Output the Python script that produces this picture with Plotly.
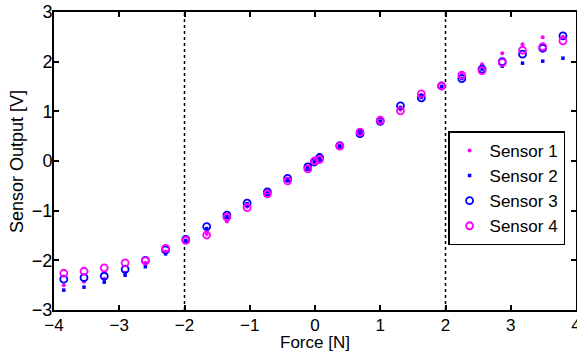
import plotly.graph_objects as go

force = [-3.85, -3.54, -3.23, -2.91, -2.60, -2.29, -1.98, -1.66, -1.35, -1.04, -0.73, -0.42, -0.11,
         -0.01, 0.07, 0.38, 0.69, 1.00, 1.31, 1.63, 1.94, 2.25, 2.56, 2.87, 3.18, 3.49, 3.80]

sensor1 = [-2.50, -2.43, -2.37, -2.25, -2.05, -1.82, -1.62, -1.47, -1.22, -0.92, -0.64, -0.38, -0.14,
           -0.01, 0.04, 0.30, 0.58, 0.81, 1.03, 1.33, 1.50, 1.75, 1.95, 2.17, 2.35, 2.49, 2.50]
sensor2 = [-2.60, -2.54, -2.44, -2.30, -2.13, -1.87, -1.60, -1.36, -1.12, -0.86, -0.61, -0.37, -0.12,
           -0.02, 0.06, 0.30, 0.55, 0.79, 1.08, 1.28, 1.50, 1.66, 1.85, 1.91, 1.97, 2.01, 2.07]
sensor3 = [-2.38, -2.35, -2.32, -2.18, -2.00, -1.79, -1.58, -1.32, -1.09, -0.85, -0.62, -0.35, -0.12,
           -0.02, 0.07, 0.31, 0.55, 0.80, 1.11, 1.27, 1.51, 1.66, 1.85, 2.00, 2.15, 2.27, 2.52]
sensor4 = [-2.26, -2.22, -2.15, -2.05, -2.01, -1.76, -1.60, -1.49, -1.13, -0.94, -0.66, -0.40, -0.16,
           0.00, 0.03, 0.30, 0.58, 0.82, 1.01, 1.35, 1.51, 1.73, 1.82, 1.98, 2.23, 2.30, 2.42]

threshold_forces = [-2, 2]
x_ticks = [-4, -3, -2, -1, 0, 1, 2, 3, 4]
y_ticks = [-3, -2, -1, 0, 1, 2, 3]
x_title = "Force [N]"
y_title = "Sensor Output [V]"

MAG = "#ff00ff"
BLUE = "#0000ff"
FONT = "Liberation Sans, Arial, sans-serif"

fig = go.Figure()
fig.add_trace(go.Scatter(x=force, y=sensor1, mode="markers", name="Sensor 1",
                         marker=dict(symbol="circle", size=4, color=MAG)))
fig.add_trace(go.Scatter(x=force, y=sensor2, mode="markers", name="Sensor 2",
                         marker=dict(symbol="square", size=3.5, color=BLUE)))
fig.add_trace(go.Scatter(x=force, y=sensor3, mode="markers", name="Sensor 3",
                         marker=dict(symbol="circle-open", size=7, color=BLUE, line=dict(width=1.8, color=BLUE))))
fig.add_trace(go.Scatter(x=force, y=sensor4, mode="markers", name="Sensor 4",
                         marker=dict(symbol="circle-open", size=7, color=MAG, line=dict(width=1.8, color=MAG))))

for xv in threshold_forces:
    fig.add_shape(type="line", xref="x", yref="paper", x0=xv, x1=xv, y0=0, y1=1,
                  line=dict(color="black", width=1.5, dash="3px,3px"), layer="below")

axis_common = dict(showgrid=False, zeroline=False, showline=True, linecolor="black", linewidth=2,
                   mirror="ticks", ticks="inside", ticklen=5, tickwidth=1.5, tickcolor="black",
                   ticklabeloverflow="allow")

fig.update_xaxes(range=[-4, 4], tickvals=x_ticks, ticklabelstandoff=-1,
                 tickfont=dict(family=FONT, size=17, color="black"), **axis_common)
fig.update_yaxes(range=[-3, 3], tickvals=y_ticks, ticklabelstandoff=-4,
                 tickfont=dict(family=FONT, size=18, color="black"), **axis_common)

fig.add_annotation(text=x_title, xref="paper", yref="paper", x=0.5, y=-0.109,
                   xanchor="center", yanchor="middle", showarrow=False,
                   font=dict(family=FONT, size=17, color="black"))
fig.add_annotation(text=y_title, xref="paper", yref="paper", x=-0.0709, y=0.5,
                   xanchor="center", yanchor="middle", showarrow=False, textangle=-90,
                   font=dict(family=FONT, size=18, color="black"))

fig.update_layout(
    width=577, height=351,
    margin=dict(l=54, r=1, t=12, b=41, autoexpand=False),
    paper_bgcolor="white", plot_bgcolor="white",
    font=dict(family=FONT, size=18, color="black"),
    legend=dict(x=0.867, y=0.408, xanchor="center", yanchor="middle",
                bordercolor="black", borderwidth=1.5, bgcolor="white",
                font=dict(family=FONT, size=17, color="black"),
                tracegroupgap=0, itemwidth=30),
    showlegend=True,
)

fig.write_html("out.html", config={"displayModeBar": False},
               post_script="document.body.style.margin='0';")
